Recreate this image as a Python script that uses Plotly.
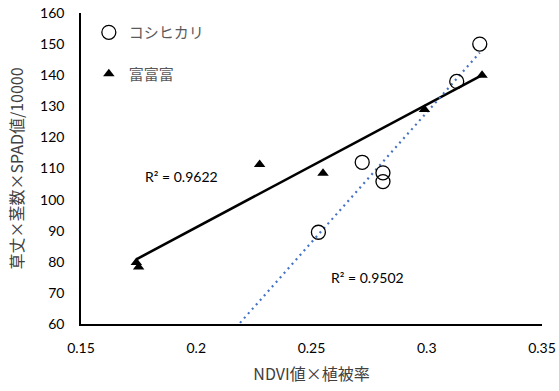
import numpy as np
import plotly.graph_objects as go

# Koshihikari (open circles)
koshi_x = [0.323, 0.313, 0.272, 0.281, 0.281, 0.253]
koshi_y = [150.0, 138.0, 112.0, 108.6, 105.8, 89.5]
# Fufufu (triangles)
fufu_x = [0.324, 0.299, 0.255, 0.2275, 0.174, 0.175]
fufu_y = [140.0, 129.0, 108.5, 111.3, 79.8, 78.3]

series_names = ["コシヒカリ", "富富富"]
r2_labels = ["R² = 0.9622", "R² = 0.9502"]

x_ticks = [0.15, 0.2, 0.25, 0.3, 0.35]
x_tick_text = ["0.15", "0.2", "0.25", "0.3", "0.35"]
y_ticks = [60, 70, 80, 90, 100, 110, 120, 130, 140, 150, 160]

FONT = "Lato, 'Noto Sans CJK JP', sans-serif"
JFONT = "'Noto Sans CJK JP', Lato, sans-serif"

fig = go.Figure()

# trendline for 富富富 (fit over data range)
p1 = np.polyfit(fufu_x, fufu_y, 1)
tx1 = np.array([min(fufu_x), max(fufu_x)])
fig.add_trace(go.Scatter(x=tx1, y=np.polyval(p1, tx1), mode="lines",
                         line=dict(color="black", width=2.6),
                         showlegend=False, hoverinfo="skip"))

# trendline for コシヒカリ (forecast backward, clipped by axis)
p2 = np.polyfit(koshi_x, koshi_y, 1)
tx2 = np.array([0.2, max(koshi_x)])
fig.add_trace(go.Scatter(x=tx2, y=np.polyval(p2, tx2), mode="lines",
                         line=dict(color="#4472C4", width=2.2, dash="2px,4px"),
                         showlegend=False, hoverinfo="skip"))

fig.add_trace(go.Scatter(x=koshi_x, y=koshi_y, mode="markers", name=series_names[0],
                         legendgroup="a",
                         marker=dict(symbol="circle-open", size=14, color="black",
                                     line=dict(width=1.3, color="black"))))
fig.add_trace(go.Scatter(x=fufu_x, y=fufu_y, mode="markers", name=series_names[1],
                         legendgroup="b",
                         marker=dict(symbol="triangle-up", size=10, color="black")))

fig.add_annotation(x=0.1934, y=107.3, text=r2_labels[0], showarrow=False,
                   font=dict(family=FONT, size=14, color="black"))
fig.add_annotation(x=0.2745, y=74.8, text=r2_labels[1], showarrow=False,
                   font=dict(family=FONT, size=14, color="black"))

fig.update_layout(
    width=559, height=391,
    margin=dict(l=81, r=17, t=13, b=67),
    plot_bgcolor="white", paper_bgcolor="white",
    font=dict(family=FONT, size=14, color="black"),
    legend=dict(x=0.017, y=0.99, xanchor="left", yanchor="top",
                bgcolor="rgba(0,0,0,0)", tracegroupgap=19,
                traceorder="grouped",
                font=dict(family=JFONT, size=15, color="#595959"),
                itemwidth=30),
    xaxis=dict(range=[0.15, 0.35], tickvals=x_ticks, ticktext=x_tick_text,
               showgrid=False, zeroline=False, showline=True, automargin=False,
               linecolor="black", linewidth=1.5, ticks="",
               ticklabelstandoff=10, ticklabeloverflow="allow",
               tickfont=dict(family=FONT, size=14, color="black"),
               title=dict(text="NDVI値×植被率", standoff=14,
                          font=dict(family=JFONT, size=16, color="#404040"))),
    yaxis=dict(range=[60, 160], tickvals=y_ticks, automargin=False,
               showgrid=False, zeroline=False, showline=True,
               linecolor="black", linewidth=1.5, ticks="",
               ticklabelstandoff=12, ticklabeloverflow="allow",
               tickfont=dict(family=FONT, size=14, color="black"),
               title=dict(text="草丈×茎数×SPAD値/10000", standoff=12,
                          font=dict(family=JFONT, size=16, color="#404040"))),
)

# remove the default 8px page margin so the figure sits at the window origin
fig.write_html("out.html", config={"displayModeBar": False},
               post_script="document.body.style.margin='0';")
